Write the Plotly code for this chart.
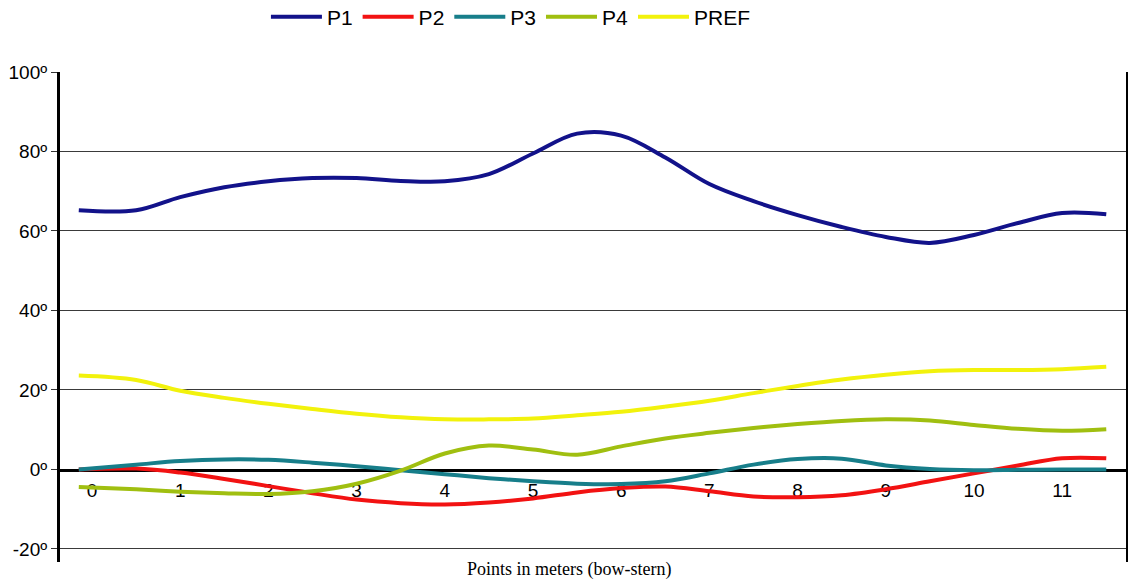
import plotly.graph_objects as go

# positions along the hull (tick units = meters)
X = [-0.15, 0.5, 1, 1.5, 2, 2.5, 3, 3.5, 4, 4.5, 5, 5.5, 6, 6.5, 7, 7.5, 8, 8.5, 9, 9.5, 10, 10.5, 11, 11.5]

P1 = [65.2, 65.2, 68.5, 71.0, 72.5, 73.3, 73.3, 72.6, 72.5, 74.3, 79.5, 84.5, 84.0, 78.5, 71.8, 67.5, 64.0, 61.0, 58.5, 57.0, 59.0, 62.0, 64.5, 64.2]
P2 = [0.0, 0.2, -0.8, -2.4, -4.2, -6.0, -7.6, -8.5, -8.8, -8.3, -7.3, -5.8, -4.7, -4.3, -5.5, -6.8, -7.0, -6.5, -5.0, -3.0, -1.0, 1.0, 2.8, 2.8]
P3 = [0.0, 1.2, 2.1, 2.5, 2.4, 1.7, 0.8, -0.2, -1.2, -2.2, -3.0, -3.6, -3.7, -3.0, -1.0, 1.2, 2.6, 2.7, 1.0, 0.1, -0.2, -0.1, 0.0, 0.0]
P4 = [-4.4, -5.0, -5.6, -6.0, -6.2, -5.5, -3.6, -0.3, 4.0, 6.0, 5.0, 3.7, 5.8, 7.8, 9.2, 10.4, 11.4, 12.2, 12.6, 12.3, 11.2, 10.2, 9.7, 10.1]
PREF = [23.6, 22.5, 19.8, 18.0, 16.5, 15.2, 14.0, 13.1, 12.6, 12.6, 12.8, 13.6, 14.5, 15.8, 17.3, 19.2, 21.0, 22.6, 23.8, 24.7, 25.0, 25.0, 25.2, 25.8]

NAMES = ["P1", "P2", "P3", "P4", "PREF"]
SERIES = [P1, P2, P3, P4, PREF]
COLORS = ["#12128a", "#f21212", "#177e8a", "#a0bf10", "#f2f20c"]

X_TICKS = list(range(0, 12))
Y_TICKS = [-20, 0, 20, 40, 60, 80, 100]
Y_LABELS = ["-20º", "0º", "20º", "40º", "60º", "80º", "100º"]

fig = go.Figure()
for name, ys, col in zip(NAMES, SERIES, COLORS):
    fig.add_trace(go.Scatter(
        x=X, y=ys, name=name, mode="lines",
        line=dict(color=col, width=4, shape="spline", smoothing=1.0),
    ))

font_sans = "Arial, Liberation Sans, sans-serif"

fig.update_layout(
    width=1131, height=586,
    margin=dict(l=60, r=4, t=72, b=24, autoexpand=False),
    paper_bgcolor="white", plot_bgcolor="white",
    font=dict(family=font_sans, color="black"),
    showlegend=True,
    legend=dict(
        orientation="h", x=0.193, y=1.112, xanchor="left", yanchor="middle",
        font=dict(size=21, family=font_sans, color="black"),
        itemwidth=51, bgcolor="rgba(0,0,0,0)", tracegroupgap=0,
    ),
    xaxis=dict(
        range=[-0.363, 11.735], anchor="free", position=0.1878,
        tickvals=X_TICKS, ticks="", showgrid=False, zeroline=False,
        showline=True, linecolor="black", linewidth=3,
        tickfont=dict(size=19, family=font_sans, color="black"),
        ticklabelstandoff=2,
        layer="below traces",
    ),
    yaxis=dict(
        range=[-23.3, 100], tickvals=Y_TICKS, ticktext=Y_LABELS,
        showgrid=True, gridcolor="#3a3a3a", gridwidth=1, zeroline=False,
        showline=True, linecolor="black", linewidth=3,
        ticks="outside", ticklen=6, tickcolor="#333333",
        tickfont=dict(size=19, family=font_sans, color="black"),
        layer="below traces",
    ),
    shapes=[dict(type="line", xref="paper", yref="paper", x0=1, x1=1, y0=0, y1=1,
                 line=dict(color="black", width=2))],
    annotations=[dict(
        text="Points in meters (bow-stern)", xref="paper", yref="paper",
        x=0.477, y=-0.016, xanchor="center", yanchor="middle", showarrow=False,
        font=dict(family="Times New Roman, Liberation Serif, serif", size=18, color="black"),
    )],
)

fig.write_html(
    "out.html",
    config={"displayModeBar": False},
    post_script="document.body.style.margin='0';document.body.style.overflow='hidden';",
)
